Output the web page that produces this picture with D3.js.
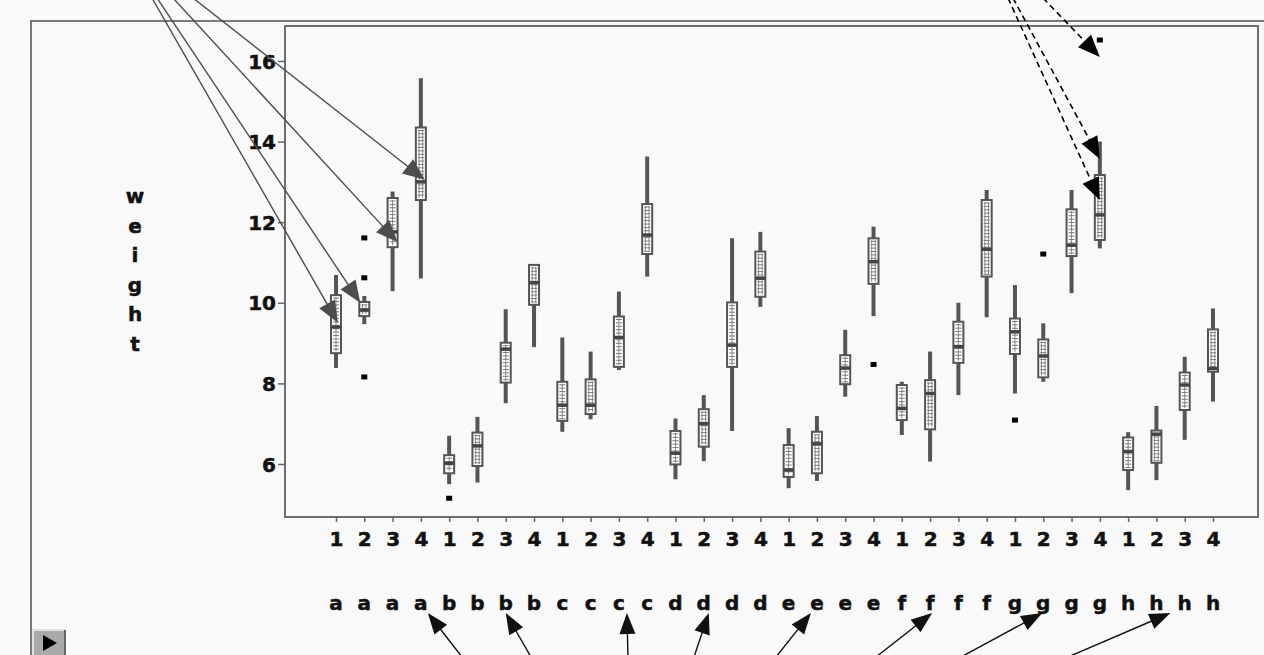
<!DOCTYPE html>
<html>
<head>
<meta charset="utf-8">
<script src="https://cdn.jsdelivr.net/npm/d3@7"></script>
<style>
  html, body { margin: 0; padding: 0; background: #f9f9f9; overflow: hidden; }
  text { font-family: "DejaVu Sans", "Liberation Sans", sans-serif; font-weight: bold; fill: #111; stroke: #111; stroke-width: 0.5px; }
</style>
</head>
<body>
<svg id="chart" width="1264" height="655"></svg>
<script>
// ---- data: weight by group (a..h) and level (1..4) ----
const groups = ["a", "b", "c", "d", "e", "f", "g", "h"];
const levels = ["1", "2", "3", "4"];
const yTicks = [6, 8, 10, 12, 14, 16];

// order: a1..a4, b1..b4, ... h1..h4
const whiskerMax = [10.69, 10.17, 12.76, 15.57,  6.70, 7.17, 9.84, 10.96,
                    9.14, 8.79, 10.28, 13.63,    7.13, 7.71, 11.60, 11.76,
                    6.89, 7.19, 9.33, 11.89,     8.04, 8.79, 10.00, 12.80,
                    10.44, 9.49, 12.80, 14.00,   6.79, 7.44, 8.66, 9.86];
const upperQuartile = [10.19, 10.02, 12.60, 14.35, 6.22, 6.78, 9.01, 10.94,
                       8.04, 8.10, 9.66, 12.45,    6.82, 7.36, 10.01, 11.27,
                       6.47, 6.80, 8.70, 11.60,    7.96, 8.08, 9.53, 12.55,
                       9.61, 9.09, 12.32, 13.17,   6.66, 6.83, 8.27, 9.34];
const medians = [9.40, 9.82, 11.76, 13.00,  6.02, 6.45, 8.85, 10.50,
                 7.46, 7.46, 9.14, 11.68,   6.27, 7.00, 8.95, 10.61,
                 5.85, 6.50, 8.38, 11.02,   7.38, 7.75, 8.91, 11.33,
                 9.28, 8.68, 11.43, 12.18,  6.31, 6.74, 7.96, 8.37];
const lowerQuartile = [8.75, 9.67, 11.38, 12.55,  5.77, 5.95, 8.02, 9.95,
                       7.07, 7.24, 8.41, 11.21,   5.99, 6.43, 8.41, 10.15,
                       5.68, 5.77, 7.98, 10.47,   7.09, 6.86, 8.51, 10.65,
                       8.73, 8.15, 11.16, 11.56,  5.85, 6.03, 7.34, 8.29];
const whiskerMin = [8.38, 9.47, 10.29, 10.60,  5.50, 5.54, 7.51, 8.90,
                    6.80, 7.11, 8.33, 10.65,   5.62, 6.07, 6.82, 9.90,
                    5.40, 5.58, 7.67, 9.67,    6.72, 6.06, 7.71, 9.64,
                    7.75, 8.04, 10.24, 11.35,  5.35, 5.60, 6.60, 7.55];

const outlierCell = ["a2", "a2", "a2", "b1", "e4", "g1", "g2", "g4"];
const outlierValue = [11.61, 10.62, 8.16, 5.15, 8.47, 7.09, 11.21, 16.52];

// callout arrows
const topArrowCell = ["a1", "a2", "a3", "a4"];
const topArrowValue = [9.5, 10.0, 11.5, 13.05];
const topArrowStartX = [152, 157, 173, 193];
const topArrowDx = [2, -4, 5, 4];

const dashArrowCell = ["g4", "g4", "g4"];
const dashArrowValue = [16.1, 13.57, 12.55];
const dashArrowStartX = [1043, 1013, 1008];

const labelArrowCell = ["a4", "b3", "c3", "d2", "e2", "f2", "g2", "h2"];
const labelArrowDx = [7, 0, 8, 5, -6, 2, -1, 14];
const labelArrowStartX = [462, 531, 628, 694, 776, 876, 961, 1068];

// ---- layout ----
const cells = [];
groups.forEach(g => levels.forEach(l => cells.push(g + l)));
const boxes = cells.map((c, i) => ({
  cell: c, group: c[0], level: c.slice(1),
  max: whiskerMax[i], q3: upperQuartile[i], med: medians[i],
  q1: lowerQuartile[i], min: whiskerMin[i]
}));

const frame = { left: 285, top: 26, right: 1258, bottom: 517 };

const svg = d3.select("#chart");

const x = d3.scalePoint().domain(cells).range([336, 1213]);
const y = d3.scaleLinear().domain([4.685, 16.868]).range([frame.bottom, frame.top]);

const ink = "#555";

// page background and outer panel border
svg.append("rect").attr("width", 1264).attr("height", 655).attr("fill", "#f9f9f9");
svg.append("path")
  .attr("d", "M31,655 V21 H1264")
  .attr("fill", "none").attr("stroke", "#7a7a7a").attr("stroke-width", 2);

// plot frame
svg.append("rect")
  .attr("x", frame.left).attr("y", frame.top)
  .attr("width", frame.right - frame.left).attr("height", frame.bottom - frame.top)
  .attr("fill", "#f9f9f9").attr("stroke", "#6e6e6e").attr("stroke-width", 2);

// y axis
const yAxis = svg.append("g").attr("transform", `translate(${frame.left},0)`)
  .call(d3.axisLeft(y).tickValues(yTicks).tickSize(7).tickPadding(2).tickFormat(d3.format("d")));
yAxis.select(".domain").remove();
yAxis.selectAll(".tick line").attr("stroke", "#666").attr("stroke-width", 1.5);
yAxis.selectAll(".tick text").attr("font-size", 20).attr("font-family", "DejaVu Sans")
  .attr("font-weight", "bold").attr("fill", "#111").attr("dy", "0.36em");

// x axis: level numbers
const xAxis = svg.append("g").attr("transform", `translate(0,${frame.bottom})`)
  .call(d3.axisBottom(x).tickSize(5).tickPadding(10).tickFormat(c => c.slice(1)));
xAxis.select(".domain").remove();
xAxis.selectAll(".tick line").attr("stroke", "#666").attr("stroke-width", 1.5);
xAxis.selectAll(".tick text").attr("font-size", 20).attr("font-family", "DejaVu Sans")
  .attr("font-weight", "bold").attr("fill", "#111");

// group letters row
svg.append("g").selectAll("text").data(boxes).join("text")
  .attr("x", d => x(d.cell)).attr("y", 610)
  .attr("text-anchor", "middle").attr("font-size", 20)
  .text(d => d.group);

// y title, stacked letters
svg.append("g").selectAll("text").data("weight".split("")).join("text")
  .attr("x", 135).attr("y", (d, i) => 203 + i * 29.5)
  .attr("text-anchor", "middle").attr("font-size", 20)
  .text(d => d);

// ---- box plots ----
const boxW = 10;
const bx = svg.append("g");
const cellG = bx.selectAll("g").data(boxes).join("g");

cellG.append("line")
  .attr("x1", d => x(d.cell)).attr("x2", d => x(d.cell))
  .attr("y1", d => y(d.max)).attr("y2", d => y(d.min))
  .attr("stroke", ink).attr("stroke-width", 4);

cellG.append("rect")
  .attr("x", d => x(d.cell) - boxW / 2).attr("width", boxW)
  .attr("y", d => y(d.q3)).attr("height", d => y(d.q1) - y(d.q3))
  .attr("fill", "#fff").attr("stroke", ink).attr("stroke-width", 2);

// inner ladder texture
cellG.each(function (d, i) {
  const g = d3.select(this);
  const cx = x(d.cell);
  const top = y(d.q3) + 2, bot = y(d.q1) - 2;
  if (bot - top < 2) return;
  const rail = i % 2 === 0 ? [cx] : [cx - 1.8, cx + 1.8];
  rail.forEach(rx => g.append("line")
    .attr("x1", rx).attr("x2", rx).attr("y1", top).attr("y2", bot)
    .attr("stroke", "#8a8a8a").attr("stroke-width", 1));
  g.selectAll("line.rung").data(d3.range(top + 1, bot, 3.4)).join("line")
    .attr("class", "rung")
    .attr("x1", cx - 3).attr("x2", cx + 3).attr("y1", v => v).attr("y2", v => v)
    .attr("stroke", "#7a7a7a").attr("stroke-width", 1);
});

cellG.append("line")
  .attr("x1", d => x(d.cell) - boxW / 2).attr("x2", d => x(d.cell) + boxW / 2)
  .attr("y1", d => y(d.med)).attr("y2", d => y(d.med))
  .attr("stroke", "#444").attr("stroke-width", 3.5);

// outliers
svg.append("g").selectAll("rect").data(outlierCell.map((c, i) => ({ cell: c, v: outlierValue[i] })))
  .join("rect")
  .attr("x", d => x(d.cell) - 3).attr("y", d => y(d.v) - 2.5)
  .attr("width", 6).attr("height", 5).attr("fill", "#000");

// ---- arrows ----
function arrow(g, x0, y0, x1, y1, color, len, half, dash) {
  const dx = x1 - x0, dy = y1 - y0, L = Math.hypot(dx, dy);
  const ux = dx / L, uy = dy / L;
  const bxp = x1 - ux * len, byp = y1 - uy * len;
  g.append("line").attr("x1", x0).attr("y1", y0).attr("x2", bxp + ux * 2).attr("y2", byp + uy * 2)
    .attr("stroke", color).attr("stroke-width", dash ? 1.6 : 1.4)
    .attr("stroke-dasharray", dash ? "6,4" : null);
  g.append("path")
    .attr("d", `M${x1},${y1} L${bxp - uy * half},${byp + ux * half} L${bxp + uy * half},${byp - ux * half} Z`)
    .attr("fill", color);
}

const arrows = svg.append("g");
topArrowCell.forEach((c, i) =>
  arrow(arrows, topArrowStartX[i], -2, x(c) + topArrowDx[i], y(topArrowValue[i]), "#4d4d4d", 22, 9, false));
dashArrowCell.forEach((c, i) =>
  arrow(arrows, dashArrowStartX[i], -2, x(c), y(dashArrowValue[i]), "#000", 22, 9, true));
labelArrowCell.forEach((c, i) =>
  arrow(arrows, labelArrowStartX[i], 657, x(c) + labelArrowDx[i], 613, "#111", 21, 8, false));

// small play button in the corner
const btn = svg.append("g").attr("transform", "translate(33,630)");
btn.append("rect").attr("width", 32).attr("height", 25).attr("fill", "#a9a9a9");
btn.append("path").attr("d", "M0,25 V0 H32").attr("fill", "none").attr("stroke", "#e0e0e0").attr("stroke-width", 2);
btn.append("path").attr("d", "M32,0 V25").attr("fill", "none").attr("stroke", "#666").attr("stroke-width", 2);
btn.append("path").attr("d", "M10,5 L24,13 L10,21 Z").attr("fill", "#000");
</script>
</body>
</html>
